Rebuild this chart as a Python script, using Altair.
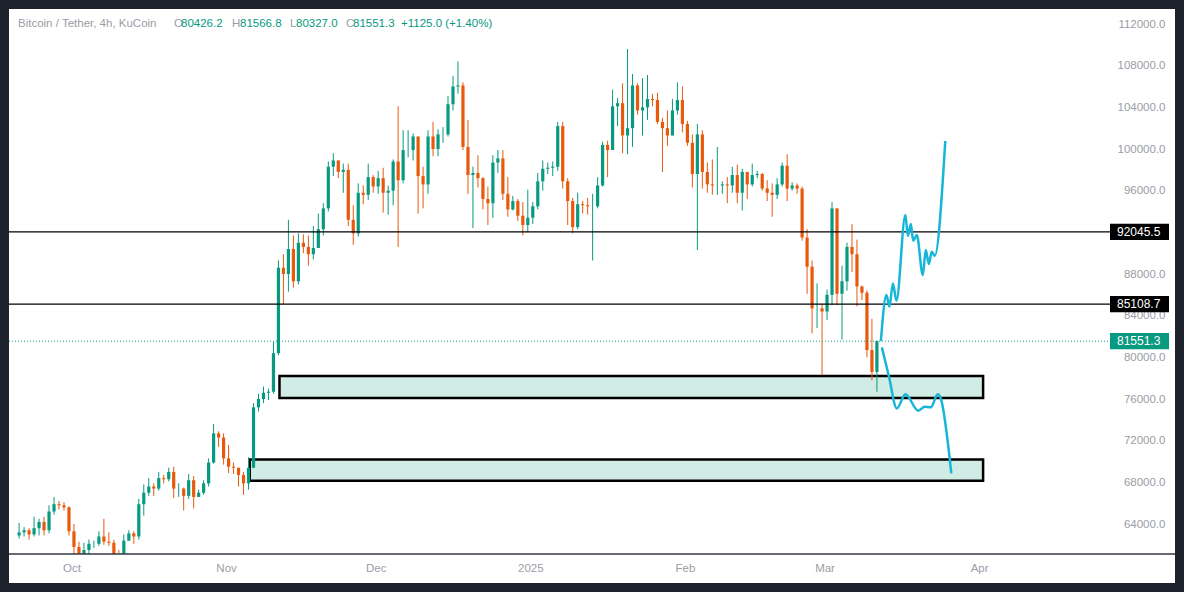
import altair as alt
import pandas as pd

# ---------------- data (daily OHLC approximation of the 4h chart) -------------
first_open = 62900
# closes Sep 20 .. Mar 11
close = [
    # Sep 20-30
    63200, 63400, 63000, 63600, 64200, 63400, 65200, 65900, 65800, 65600, 63300,
    # Oct
    61800, 61000, 61500, 62100, 62100, 62800, 62300, 62200, 61000, 60400, 62400, 63100, 62800, 65900, 67000, 67600,
    67400, 68400, 68300, 69000, 67400, 67400, 66700, 68200, 66600, 67000, 67900, 69900, 72700, 72300, 70300,
    # Nov
    69500, 69400, 68700, 67900, 69400, 75200, 76000, 76600, 76700, 80400, 88600, 88000, 90400, 87300, 91000,
    90600, 89900, 90500, 92300, 94300, 98300, 98900, 97800, 98000, 93200, 91900, 95800, 95600, 97300, 96400,
    # Dec
    97200, 95800, 96000, 98800, 97000, 99900, 99900, 101200, 97400, 96600, 101200, 100000, 101400, 101400, 104300,
    106000, 106100, 100200, 97500, 97700, 97200, 95200, 94800, 98700, 99100, 95700, 94200, 95000, 93600, 92700, 93400,
    # Jan
    94500, 96900, 98100, 98200, 98300, 102200, 96900, 95000, 92500, 94700, 94600, 94500, 94500, 96500, 100400,
    99900, 104100, 104400, 101300, 102000, 106100, 103700, 104000, 104800, 104700, 102600, 102000, 101300, 103700,
    104700, 102400,
    # Feb
    100600, 97600, 101400, 97800, 96600, 96500, 96500, 96600, 96500, 97500, 95800, 97800, 96600, 97500, 97600,
    96200, 95800, 95600, 96600, 98400, 96200, 96500, 96200, 91500, 88700, 84700, 84700, 84400,
    # Mar 1-11
    86000, 94300, 86100, 87300, 90600, 89900, 86800, 86200, 80700, 78600, 81551.3,
]
high = [
    64100, 63700, 63600, 64700, 64500, 64700, 65800, 66600, 66200, 66100, 65700,
    64000, 62300, 62200, 62500, 62400, 63300, 64500, 63200, 62500, 61500, 63000, 63400, 63300, 66400, 67800, 68400,
    67900, 69000, 68700, 69400, 69500, 67900, 67500, 68800, 68600, 67300, 68200, 70300, 73600, 72900, 72700,
    71600, 69900, 69400, 69000, 70400, 75600, 76500, 77200, 77000, 81500, 89300, 89900, 93200, 91700, 91900,
    91800, 91700, 92600, 93800, 94800, 98800, 99600, 98800, 98600, 98600, 94600, 96700, 96500, 98600, 97500,
    97900, 98200, 96500, 99000, 104100, 101800, 101800, 101500, 101200, 98300, 101800, 102600, 101900, 102100, 105100,
    107000, 108400, 106400, 102800, 98300, 99400, 97300, 96400, 99400, 99900, 99900, 97300, 95500, 95200, 94900, 96100,
    94900, 97700, 98900, 98700, 98800, 102600, 102600, 97200, 95300, 95800, 95000, 95300, 95700, 97300, 100700,
    100800, 105700, 104900, 106300, 109600, 107200, 106300, 106800, 107100, 105300, 105400, 103000, 103700, 104800,
    106400, 106000,
    102700, 101400, 102400, 101800, 98700, 99000, 100200, 96900, 97300, 98300, 98500, 98100, 97500, 98600, 97900,
    97700, 97000, 96700, 97200, 98700, 99500, 96800, 96700, 96400, 92300, 89300, 87100, 85100,
    86500, 94900, 94300, 88800, 91000, 92800, 91300, 86900, 86400, 83700, 81600,
]
low = [
    62600, 62800, 62500, 62800, 62900, 62900, 63100, 64900, 65400, 65300, 62900,
    60500, 60000, 60300, 60800, 61700, 61900, 62000, 61900, 60400, 58900, 60200, 62400, 62100, 62500, 64800, 66700,
    66700, 67200, 67900, 68100, 66500, 66600, 65300, 66400, 65500, 66600, 66800, 67600, 69800, 71400, 69700,
    68900, 68800, 67600, 66800, 67300, 69400, 74800, 75600, 75900, 76500, 80200, 85100, 86300, 86700, 87000,
    90000, 88800, 89400, 90900, 91700, 94000, 97400, 97200, 95800, 92600, 90800, 91600, 94700, 95100, 95800,
    95700, 93900, 93700, 94600, 90600, 96700, 99200, 98900, 93800, 94300, 95700, 99300, 99300, 100600, 101200,
    103700, 105300, 99900, 95700, 92400, 96300, 94200, 92700, 93400, 97700, 95100, 93500, 94100, 93100, 91700, 92000,
    92800, 94200, 96000, 97600, 97400, 97900, 96200, 92700, 91900, 92300, 93800, 93700, 89300, 94300, 96400,
    97300, 99900, 102200, 99600, 99500, 100200, 103300, 101300, 102800, 104100, 102400, 97800, 100300, 101300,
    103300, 101600,
    100300, 96300, 90300, 96200, 95800, 95600, 95600, 95700, 94800, 95800, 94800, 94100, 95200, 96400, 97200,
    96000, 95000, 93500, 95200, 96400, 95000, 96000, 95700, 91200, 86100, 82300, 82800, 78300,
    83600, 85000, 85000, 81700, 86400, 88200, 84900, 85500, 80000, 77800, 76700,
]

# horizontal levels and current price
levels = [92045.5, 85108.7]
last_price = 81551.3

# support zones (start, end, top, bottom)
zone_start = ["2024-11-11T17:00:00", "2024-11-05T18:00:00"]
zone_end = ["2025-04-01T19:00:00", "2025-04-01T19:00:00"]
zone_top = [78200, 70200]
zone_bottom = [76100, 68150]

# projected paths
up_t = ["2025-03-12T07:00:00", "2025-03-13T10:00:00", "2025-03-14T00:00:00", "2025-03-14T17:00:00",
        "2025-03-15T10:00:00", "2025-03-17T05:00:00", "2025-03-17T17:00:00", "2025-03-18T07:00:00",
        "2025-03-18T19:00:00", "2025-03-19T12:00:00", "2025-03-20T17:00:00", "2025-03-21T07:00:00",
        "2025-03-21T22:00:00", "2025-03-22T12:00:00", "2025-03-23T02:00:00", "2025-03-25T05:00:00"]
up_p = [81550, 85980, 84860, 87100, 85440, 93660, 91650, 92800, 91200, 91740, 87900, 90300, 88960,
        90140, 89730, 100770]
down_t = ["2025-03-12T12:00:00", "2025-03-13T22:00:00", "2025-03-15T12:00:00", "2025-03-17T05:00:00",
          "2025-03-19T19:00:00", "2025-03-21T02:00:00", "2025-03-22T07:00:00", "2025-03-23T17:00:00",
          "2025-03-24T07:00:00", "2025-03-26T10:00:00"]
down_p = [80960, 78140, 75100, 76450, 74880, 75260, 75200, 76450, 76070, 68870]

# price-scale labels (92000.0 is hidden behind the 92045.5 tag in the reference)
y_ticks = [64000, 68000, 72000, 76000, 80000, 84000, 88000, 96000, 100000, 104000, 108000, 112000]

# ---------------- styles ----------------
TEAL = "#089981"
ORANGE = "#e8590c"
CYAN = "#17b6d8"
GRAY = "#9a9da6"
DARK = "#1e222d"
FONT = "Liberation Sans"

W, H = 1099, 544

# ---------------- frames ----------------
opens = [first_open] + close[:-1]
candles = pd.DataFrame({
    "t": pd.date_range("2024-09-20 12:00", periods=len(close), freq="D"),
    "open": opens,
    "close": close,
    "high": [max(h, o, c) for h, o, c in zip(high, opens, close)],
    "low": [min(l, o, c) for l, o, c in zip(low, opens, close)],
})
candles["t"] = candles["t"].dt.strftime("%Y-%m-%dT%H:%M:%S")
candles["dir"] = ["up" if c >= o else "down" for o, c in zip(candles["open"], candles["close"])]

zones = pd.DataFrame({"s": zone_start, "e": zone_end, "top": zone_top, "bot": zone_bottom})
paths = pd.DataFrame({
    "t": up_t + down_t,
    "p": up_p + down_p,
    "path": ["up"] * len(up_t) + ["down"] * len(down_t),
})
lvl = pd.DataFrame({"price": levels})
cur = pd.DataFrame({"price": [last_price]})

xscale = alt.Scale(domain=[alt.DateTime(year=2024, month=9, date=19, hours=11, minutes=26),
                           alt.DateTime(year=2025, month=4, date=25, hours=20, minutes=0)])
yscale = alt.Scale(domain=[61120, 113344], nice=False, zero=False)

month_vals = [alt.DateTime(year=2024, month=10, date=1), alt.DateTime(year=2024, month=11, date=1),
              alt.DateTime(year=2024, month=12, date=1), alt.DateTime(year=2025, month=1, date=1),
              alt.DateTime(year=2025, month=2, date=1), alt.DateTime(year=2025, month=3, date=1),
              alt.DateTime(year=2025, month=4, date=1)]

xaxis = alt.Axis(values=month_vals, title=None, grid=False, ticks=False, domain=False,
                 labelExpr="month(datum.value) == 0 ? timeFormat(datum.value, '%Y') : timeFormat(datum.value, '%b')",
                 labelColor=GRAY, labelFontSize=11.5, labelFont=FONT, labelPadding=8)
yaxis = alt.Axis(orient="right", values=y_ticks, format=".1f", title=None, grid=False, ticks=False,
                 domain=False, labelAlign="right", labelBaseline="middle", labelPadding=57,
                 labelColor=GRAY, labelFontSize=11.5, labelFont=FONT)

X = lambda f: alt.X(f, type="temporal", scale=xscale, axis=xaxis)
Y = lambda f: alt.Y(f, type="quantitative", scale=yscale, axis=yaxis)

color = alt.Color("dir:N", scale=alt.Scale(domain=["up", "down"], range=[TEAL, ORANGE]), legend=None)

zone_layer = alt.Chart(zones).mark_rect(fill="#d1ebe5", stroke="#000000", strokeWidth=2.5).encode(
    x=X("s"), x2="e", y=Y("top"), y2="bot")

wicks = alt.Chart(candles).mark_rule(strokeWidth=1, clip=True).encode(
    x=X("t"), y=Y("low"), y2="high", color=color)
bodies = alt.Chart(candles).mark_bar(size=3.2, clip=True).encode(
    x=X("t"), y=Y("open"), y2="close", color=color)

level_lines = alt.Chart(lvl).mark_rule(color="#000000", strokeWidth=1.3).encode(
    y=Y("price"), x=alt.value(0), x2=alt.value(1101))
cur_line = alt.Chart(cur).mark_rule(color=TEAL, strokeWidth=1, strokeDash=[1, 2]).encode(
    y=Y("price"), x=alt.value(0), x2=alt.value(1101))

proj = alt.Chart(paths).mark_line(interpolate="monotone", strokeWidth=2.5, color=CYAN).encode(
    x=X("t"), y=Y("p"), detail="path:N")

def label_box(df, fill):
    box = alt.Chart(df).transform_calculate(hi="datum.price + 780", lo="datum.price - 780").mark_rect(
        fill=fill).encode(y=Y("hi:Q"), y2="lo:Q", x=alt.value(1101), x2=alt.value(1160))
    txt = alt.Chart(df).mark_text(align="left", baseline="middle", color="white", fontSize=12,
                                  font=FONT).encode(
        y=Y("price"), x=alt.value(1108), text=alt.Text("price:Q", format=".1f"))
    return box + txt

header = pd.DataFrame({
    "txt": ["Bitcoin / Tether, 4h, KuCoin", "O", "80426.2", "H", "81566.8", "L", "80327.0", "C", "81551.3",
            "+1125.0 (+1.40%)"],
    "col": [GRAY, GRAY, TEAL, GRAY, TEAL, GRAY, TEAL, GRAY, TEAL, TEAL],
    "px": [9, 165, 172, 223, 231, 281, 287, 337, 344, 392],
})
header_layer = alt.Chart(header).mark_text(align="left", baseline="middle", fontSize=11.5, font=FONT).encode(
    x=alt.X("px:Q", scale=None), y=alt.value(14), text="txt:N", color=alt.Color("col:N", scale=None))

base_rule = alt.Chart(cur).mark_rule(color="#343844", strokeWidth=1.5).encode(
    x=alt.value(0), x2=alt.value(1166), y=alt.value(544))

frame = pd.DataFrame({
    "x0": [-9, -9, -9, 1166], "x1": [1175, 1175, 0, 1175],
    "y0": [-10, 573, -10, -10], "y1": [-1, 582, 582, 582],
})
frame_layer = alt.Chart(frame).mark_rect(color=DARK).encode(
    x=alt.X("x0:Q", scale=None), x2="x1", y=alt.Y("y0:Q", scale=None), y2="y1")

chart = alt.layer(
    zone_layer, wicks, bodies, level_lines, cur_line, proj,
    label_box(lvl, "#000000"), label_box(cur, TEAL),
    header_layer, base_rule, frame_layer,
).properties(
    width=W, height=H,
    autosize=alt.AutoSizeParams(type="none"),
    padding={"left": 9, "top": 10, "right": 76, "bottom": 38},
    background="#ffffff",
).configure_view(strokeWidth=0)

chart.save("out.html", embed_options={"renderer": "svg", "actions": False})
